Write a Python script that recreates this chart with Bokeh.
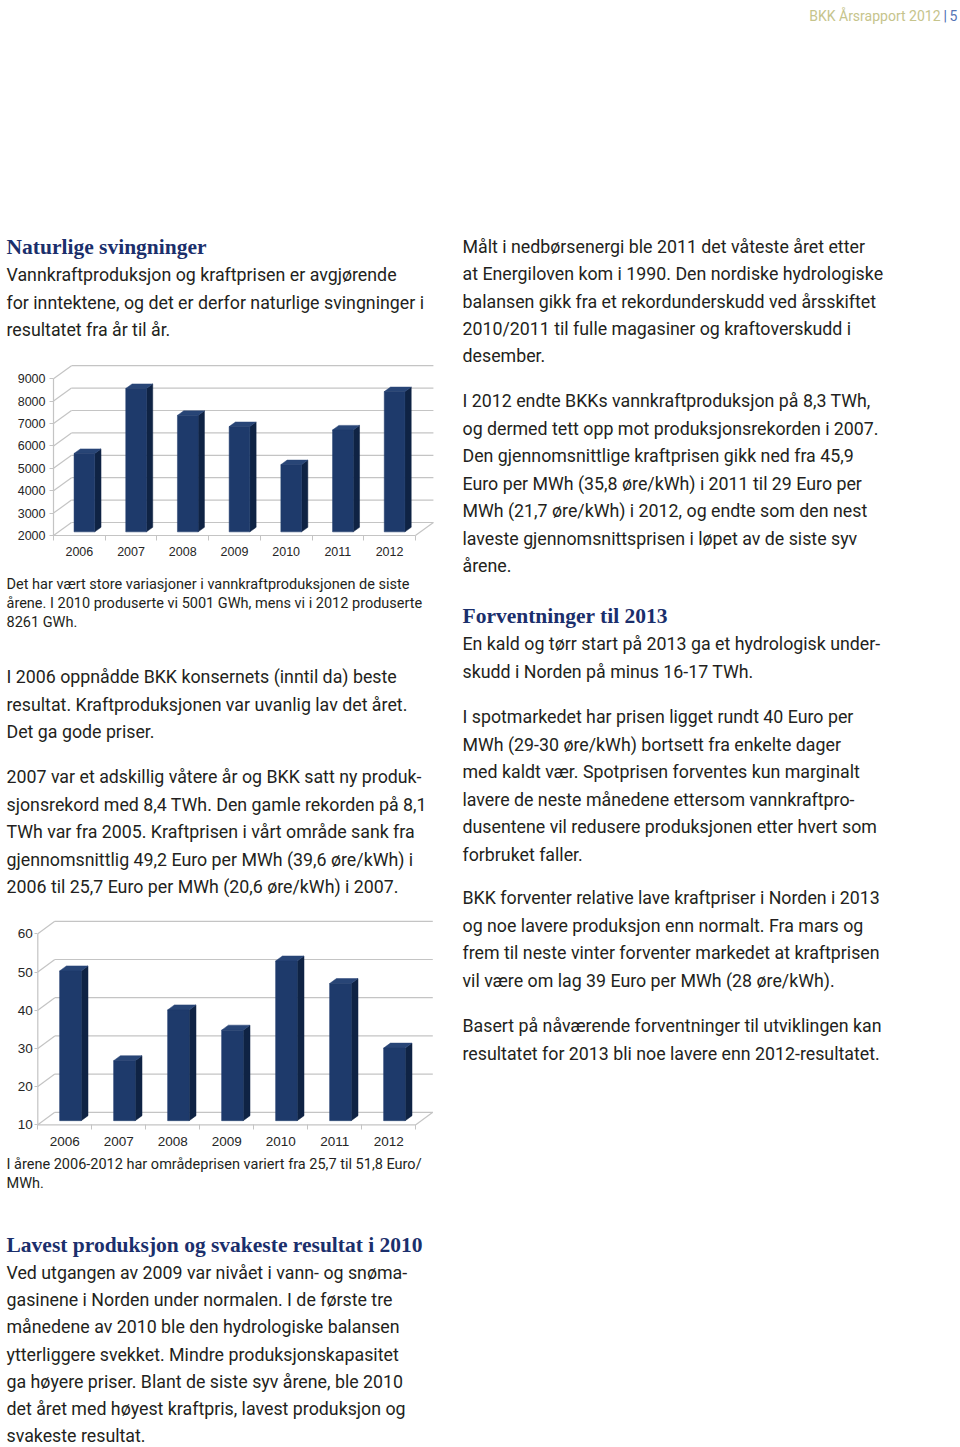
from bokeh.plotting import figure
from bokeh.models import ColumnDataSource, Range1d, FixedTicker
from bokeh.layouts import column, row
from bokeh.core.properties import value
from bokeh.embed import file_html
from bokeh.resources import INLINE

# ------------------------------------------------------------------ data
years = ["2006", "2007", "2008", "2009", "2010", "2011", "2012"]
production_gwh = [5500, 8400, 7200, 6700, 5001, 6550, 8261]
production_ticks = [2000, 3000, 4000, 5000, 6000, 7000, 8000, 9000]
price_eur_mwh = [49.2, 25.7, 39.0, 33.7, 51.8, 45.9, 29.0]
price_ticks = [10, 20, 30, 40, 50, 60]

header_title = "BKK Årsrapport 2012"
header_sep = "|"
header_page = "5"

heading_1 = "Naturlige svingninger"
intro_lines = [
    "Vannkraftproduksjon og kraftprisen er avgjørende",
    "for inntektene, og det er derfor naturlige svingninger i",
    "resultatet fra år til år.",
]
caption_1 = [
    "Det har vært store variasjoner i vannkraftproduksjonen de siste",
    "årene. I 2010 produserte vi 5001 GWh, mens vi i 2012 produserte",
    "8261 GWh.",
]
para_2006 = [
    "I 2006 oppnådde BKK konsernets (inntil da) beste",
    "resultat. Kraftproduksjonen var uvanlig lav det året.",
    "Det ga gode priser.",
]
para_2007 = [
    "2007 var et adskillig våtere år og BKK satt ny produk-",
    "sjonsrekord med 8,4 TWh. Den gamle rekorden på 8,1",
    "TWh var fra 2005. Kraftprisen i vårt område sank fra",
    "gjennomsnittlig 49,2 Euro per MWh (39,6 øre/kWh) i",
    "2006 til 25,7 Euro per MWh (20,6 øre/kWh) i 2007.",
]
caption_2 = [
    "I årene 2006-2012 har områdeprisen variert fra 25,7 til 51,8 Euro/",
    "MWh.",
]
heading_2010 = "Lavest produksjon og svakeste resultat i 2010"
para_2010 = [
    "Ved utgangen av 2009 var nivået i vann- og snøma-",
    "gasinene i Norden under normalen. I de første tre",
    "månedene av 2010 ble den hydrologiske balansen",
    "ytterliggere svekket. Mindre produksjonskapasitet",
    "ga høyere priser. Blant de siste syv årene, ble 2010",
    "det året med høyest kraftpris, lavest produksjon og",
    "svakeste resultat.",
]
right_p1 = [
    "Målt i nedbørsenergi ble 2011 det våteste året etter",
    "at Energiloven kom i 1990. Den nordiske hydrologiske",
    "balansen gikk fra et rekordunderskudd ved årsskiftet",
    "2010/2011 til fulle magasiner og kraftoverskudd i",
    "desember.",
]
right_p2 = [
    "I 2012 endte BKKs vannkraftproduksjon på 8,3 TWh,",
    "og dermed tett opp mot produksjonsrekorden i 2007.",
    "Den gjennomsnittlige kraftprisen gikk ned fra 45,9",
    "Euro per MWh (35,8 øre/kWh) i 2011 til 29 Euro per",
    "MWh (21,7 øre/kWh) i 2012, og endte som den nest",
    "laveste gjennomsnittsprisen i løpet av de siste syv",
    "årene.",
]
heading_2013 = "Forventninger til 2013"
right_p3 = [
    "En kald og tørr start på 2013 ga et hydrologisk under-",
    "skudd i Norden på minus 16-17 TWh.",
]
right_p4 = [
    "I spotmarkedet har prisen ligget rundt 40 Euro per",
    "MWh (29-30 øre/kWh) bortsett fra enkelte dager",
    "med kaldt vær. Spotprisen forventes kun marginalt",
    "lavere de neste månedene ettersom vannkraftpro-",
    "dusentene vil redusere produksjonen etter hvert som",
    "forbruket faller.",
]
right_p5 = [
    "BKK forventer relative lave kraftpriser i Norden i 2013",
    "og noe lavere produksjon enn normalt. Fra mars og",
    "frem til neste vinter forventer markedet at kraftprisen",
    "vil være om lag 39 Euro per MWh (28 øre/kWh).",
]
right_p6 = [
    "Basert på nåværende forventninger til utviklingen kan",
    "resultatet for 2013 bli noe lavere enn 2012-resultatet.",
]

# ------------------------------------------------------------------ styles
BODY_FONT = "Roboto"
BODY_SIZE = "17.8px"
CAP_SIZE = "14.5px"
BODY_COLOR = "#231f20"
HEAD_FONT = "Liberation Serif"
HEAD_SIZE = "21.5px"
HEAD_COLOR = "#1b2f6c"
AXIS_FONT = "Liberation Sans"
AXIS_COLOR = "#262626"
GRID_COLOR = "#c4c4c4"
FRONT_COLOR = "#1e3a6b"
SIDE_COLOR = "#0f2344"
TOP_COLOR = "#284576"

PAGE_W = 960
PAGE_H = 1447
LEFT_W = 455


def base_fig(x0, x1, y0, y1, w, h, **kw):
    p = figure(width=int(w), height=int(h),
               x_range=Range1d(x0, x1), y_range=Range1d(y0, y1),
               output_backend="svg", toolbar_location=None,
               min_border=0, min_border_left=0, min_border_right=0,
               min_border_top=0, min_border_bottom=0,
               outline_line_color=None, **kw)
    p.grid.visible = False
    p.background_fill_color = "white"
    p.border_fill_color = "white"
    return p


def text_fig(px0, px1, py0, py1):
    # page-pixel coordinates, y pointing down
    return base_fig(px0, px1, py1, py0, px1 - px0, py1 - py0,
                    x_axis_type=None, y_axis_type=None)


def add_lines(p, lines, x, y0, dy, size=BODY_SIZE, color=BODY_COLOR,
              font=BODY_FONT, style="normal", align="left"):
    src = ColumnDataSource(dict(
        x=[x] * len(lines),
        y=[y0 + i * dy for i in range(len(lines))],
        t=list(lines)))
    p.text(x="x", y="y", text="t", source=src,
           text_font=value(font), text_font_size=value(size),
           text_color=color, text_font_style=style,
           text_baseline="middle", text_align=align)


def bar3d_chart(cats, vals, ticks, box, origin, ppc, ppu, depth_px,
                bar_front_frac, bar_depth_frac, tick_out, standoff,
                label_size, x_standoff):
    """box = page bbox of the figure, origin = page px of the front plane
    (x=0, y=floor); ppc = px per category, ppu = px per value unit;
    depth_px = (right, up) pixel offset of the back wall."""
    px0, px1, py0, py1 = box
    ox, oy = origin
    n = len(cats)
    floor = min(ticks)
    xr = ((px0 - ox) / ppc, (px1 - ox) / ppc)
    yr = (floor - (py1 - oy) / ppu, floor + (oy - py0) / ppu)
    p = base_fig(xr[0], xr[1], yr[0], yr[1], px1 - px0, py1 - py0)

    ddx = depth_px[0] / ppc
    ddy = depth_px[1] / ppu
    top_t = max(ticks)

    # back wall gridlines + left wall diagonals
    p.segment(x0=[ddx] * len(ticks), y0=[t + ddy for t in ticks],
              x1=[n + ddx] * len(ticks), y1=[t + ddy for t in ticks],
              line_color=GRID_COLOR, line_width=1.2)
    p.segment(x0=[0] * len(ticks), y0=list(ticks),
              x1=[ddx] * len(ticks), y1=[t + ddy for t in ticks],
              line_color=GRID_COLOR, line_width=1.2)
    # front vertical axis, floor front edge and right floor edge
    p.segment(x0=[0, 0, n], y0=[floor, floor, floor],
              x1=[0, n, n + ddx], y1=[top_t, floor, floor + ddy],
              line_color=GRID_COLOR, line_width=1.2)

    # bars (front face, side face, top face)
    bw = 0.4
    fx, fy = bar_front_frac * ddx, bar_front_frac * ddy
    bx, by = bar_depth_frac * ddx, bar_depth_frac * ddy
    lefts = [i + 0.5 - bw / 2 + fx for i in range(n)]
    rights = [l + bw for l in lefts]
    bottoms = [floor + fy] * n
    tops = [v + fy for v in vals]
    p.patches(xs=[[r, r + bx, r + bx, r] for r in rights],
              ys=[[b, b + by, t + by, t] for b, t in zip(bottoms, tops)],
              fill_color=SIDE_COLOR, line_color=SIDE_COLOR, line_width=0.5)
    p.patches(xs=[[l, r, r + bx, l + bx] for l, r in zip(lefts, rights)],
              ys=[[t, t, t + by, t + by] for t in tops],
              fill_color=TOP_COLOR, line_color=TOP_COLOR, line_width=0.5)
    p.quad(left=lefts, right=rights, bottom=bottoms, top=tops,
           fill_color=FRONT_COLOR, line_color=FRONT_COLOR, line_width=0.5)

    # axes drawn at the front plane (fixed locations inside the frame)
    ya = p.yaxis[0]
    ya.fixed_location = 0
    ya.ticker = FixedTicker(ticks=list(ticks))
    ya.axis_line_color = None
    ya.major_tick_out = tick_out
    ya.major_tick_in = 0
    ya.minor_tick_out = 0
    ya.minor_tick_in = 0
    ya.major_tick_line_color = GRID_COLOR
    ya.major_label_standoff = standoff
    ya.major_label_text_font = AXIS_FONT
    ya.major_label_text_font_size = label_size
    ya.major_label_text_color = AXIS_COLOR

    xa = p.xaxis[0]
    xa.fixed_location = floor
    centers = [i + 0.5 for i in range(n)]
    xa.ticker = FixedTicker(ticks=centers, minor_ticks=list(range(n + 1)))
    xa.major_label_overrides = {c: lab for c, lab in zip(centers, cats)}
    xa.axis_line_color = None
    xa.major_tick_out = 0
    xa.major_tick_in = 0
    xa.minor_tick_out = 5
    xa.minor_tick_in = 0
    xa.minor_tick_line_color = GRID_COLOR
    xa.major_label_standoff = x_standoff
    xa.major_label_text_font = AXIS_FONT
    xa.major_label_text_font_size = label_size
    xa.major_label_text_color = AXIS_COLOR
    return p


# ------------------------------------------------------------------ left column
LX0, LX1 = 0, LEFT_W
TX = 6

tA = text_fig(LX0, LX1, 0, 360)
add_lines(tA, [heading_1], TX, 246, 0, size=HEAD_SIZE, color=HEAD_COLOR,
          font=HEAD_FONT, style="bold")
add_lines(tA, intro_lines, TX, 274, 27.5)

chart1 = bar3d_chart(years, production_gwh, production_ticks,
                     box=(LX0, LX1, 360, 565), origin=(53, 535),
                     ppc=51.7, ppu=22.4 / 1000, depth_px=(18, 13),
                     bar_front_frac=0.28, bar_depth_frac=0.35,
                     tick_out=4, standoff=4, label_size="12.5px",
                     x_standoff=6)

tB = text_fig(LX0, LX1, 565, 912)
add_lines(tB, caption_1, TX, 584, 19, size=CAP_SIZE)
add_lines(tB, para_2006, TX, 676, 27.5)
add_lines(tB, para_2007, TX, 776, 27.5)

chart2 = bar3d_chart(years, price_eur_mwh, price_ticks,
                     box=(LX0, LX1, 912, 1155), origin=(37.3, 1124.3),
                     ppc=54.0, ppu=3.82, depth_px=(17, 12.5),
                     bar_front_frac=0.33, bar_depth_frac=0.4,
                     tick_out=3, standoff=2, label_size="13.5px",
                     x_standoff=7)

tC = text_fig(LX0, LX1, 1155, PAGE_H)
add_lines(tC, caption_2, TX, 1164, 19, size=CAP_SIZE)
add_lines(tC, [heading_2010], TX, 1244, 0, size=HEAD_SIZE, color=HEAD_COLOR,
          font=HEAD_FONT, style="bold")
add_lines(tC, para_2010, TX, 1272, 27.2)

left_col = column(tA, chart1, tB, chart2, tC, spacing=0)

# ------------------------------------------------------------------ right column
RTX = 462
tR = text_fig(LX1, PAGE_W, 0, PAGE_H)
add_lines(tR, [header_title], 940, 15, 0, size="14px", color="#c6c48c",
          align="right")
add_lines(tR, [header_sep], 943, 15, 0, size="14px", color="#4a6cb0")
add_lines(tR, [header_page], 949, 15, 0, size="14px", color="#5575b5")
add_lines(tR, right_p1, RTX, 246, 27.3)
add_lines(tR, right_p2, RTX, 400, 27.5)
add_lines(tR, [heading_2013], RTX, 615, 0, size=HEAD_SIZE, color=HEAD_COLOR,
          font=HEAD_FONT, style="bold")
add_lines(tR, right_p3, RTX, 643, 27.5)
add_lines(tR, right_p4, RTX, 716, 27.5)
add_lines(tR, right_p5, RTX, 897, 27.5)
add_lines(tR, right_p6, RTX, 1025, 27.5)

page = row(left_col, tR, spacing=0)

with open("out.html", "w") as f:
    f.write(file_html(page, INLINE))
